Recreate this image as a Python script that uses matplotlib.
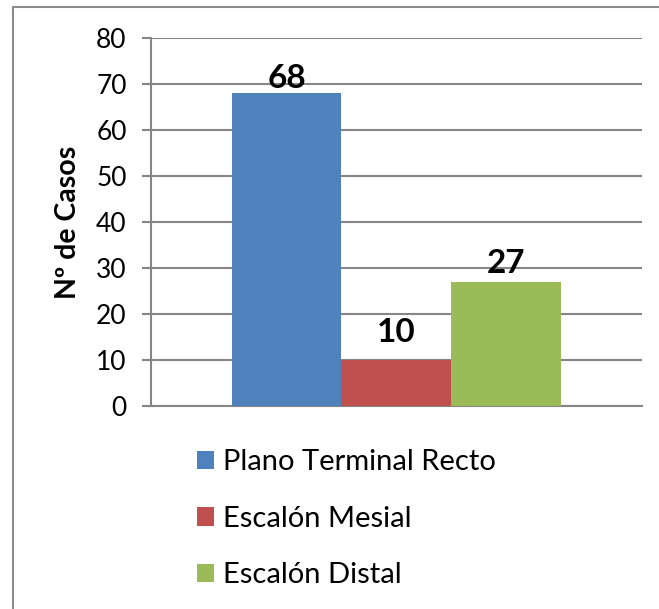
import matplotlib.pyplot as plt
from matplotlib.patches import Patch, Rectangle

categorias = ['Plano Terminal Recto', 'Escalón Mesial', 'Escalón Distal']
casos = [68, 10, 27]
colores = ['#4F81BD', '#C0504D', '#9BBB59']
y_ticks = [0, 10, 20, 30, 40, 50, 60, 70, 80]

plt.rcParams['font.family'] = ['Lato', 'DejaVu Sans']

fig = plt.figure(figsize=(6.59, 6.09), dpi=100)
ax = fig.add_axes([0.2291, 0.3333, 0.7451, 0.6043])

ancho = 0.224
offsets = [-ancho, 0, ancho]
sep_etiqueta = [0, 9.5, 3]  # separacion extra de cada etiqueta (pt)
for off, val, col, sep in zip(offsets, casos, colores, sep_etiqueta):
    ax.bar(off, val, width=ancho, color=col, zorder=3)
    ax.annotate(str(val), (off, val), xytext=(0, sep), textcoords='offset points',
                ha='center', va='bottom', fontsize=24, fontweight='bold', zorder=4)

ax.set_xlim(-0.5, 0.5)
ax.set_ylim(0, 80)
ax.set_yticks(y_ticks)
ax.set_xticks([])
ax.yaxis.grid(True, color='#868686', linewidth=1.5, zorder=0)
for s in ['top', 'right']:
    ax.spines[s].set_visible(False)
for s in ['left', 'bottom']:
    ax.spines[s].set_color('#868686')
    ax.spines[s].set_linewidth(1.5)
ax.tick_params(axis='y', length=6.5, width=1.5, color='#868686', pad=11, labelsize=19)
ax.set_ylabel('Nº de Casos', fontsize=20.5, fontweight='bold', labelpad=10.5)

handles = [Patch(facecolor=c, edgecolor='none') for c in colores]
fig.legend(handles, categorias, loc='upper left', bbox_to_anchor=(0.299, 0.262),
           frameon=False, fontsize=21, handlelength=0.59, handleheight=0.59,
           handletextpad=0.31, labelspacing=1.04, borderpad=0, borderaxespad=0)

# marco del grafico
fig.patches.append(Rectangle((13 / 659, -0.1), 1.2, 1 - 7 / 609 + 0.1,
                             transform=fig.transFigure, fill=False,
                             edgecolor='#8c8c8c', linewidth=1.5))

fig.savefig('out.png', dpi=100)
